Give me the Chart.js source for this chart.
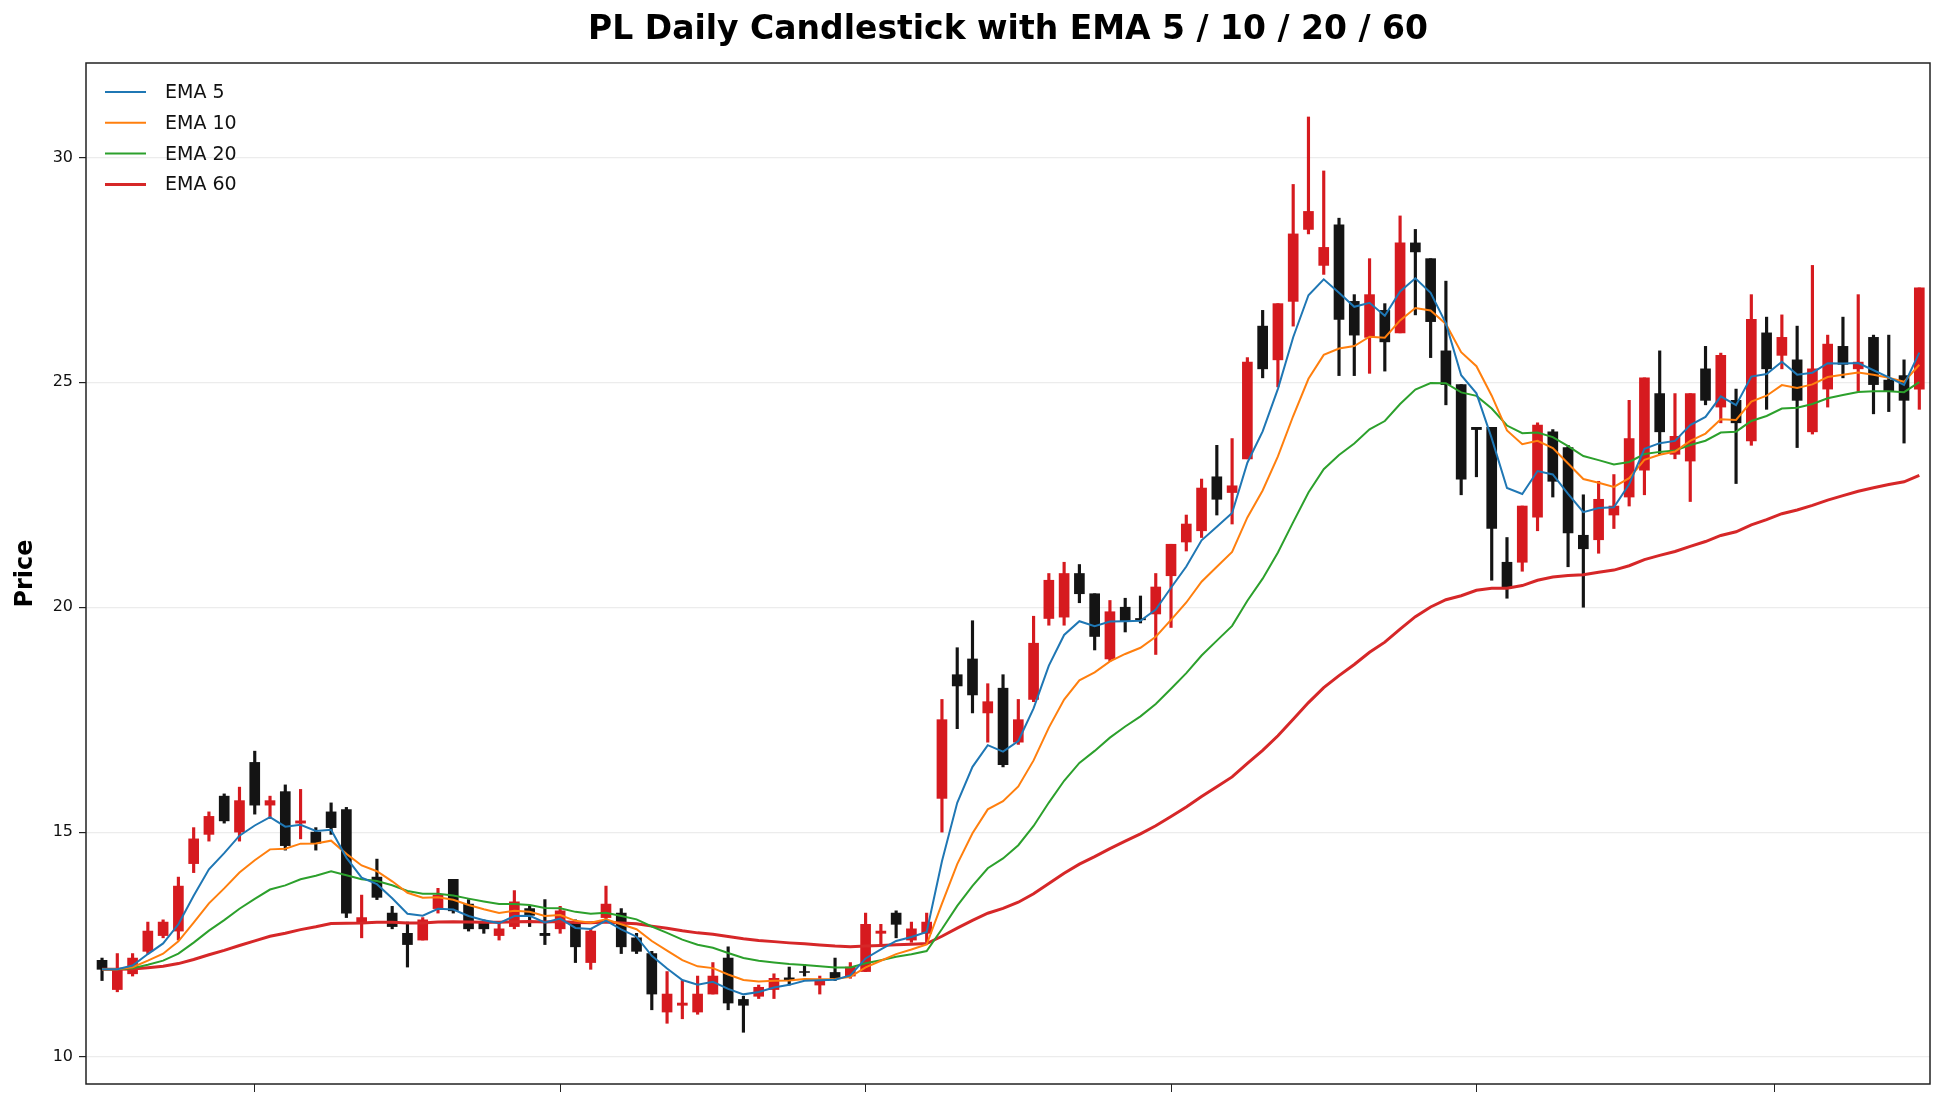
<!DOCTYPE html>
<html><head><meta charset="utf-8">
<script src="https://cdn.jsdelivr.net/npm/chart.js@4.4.1/dist/chart.umd.min.js"></script>
<style>html,body{margin:0;padding:0;background:#fff}canvas{display:block}</style>
</head><body>
<canvas id="c" width="1946" height="1106"></canvas>
<script>
const openP = [12.15,11.5,11.85,12.35,12.7,12.8,14.3,14.95,15.8,15.0,16.55,15.6,15.9,15.2,15.0,15.45,15.5,13.0,14.0,13.2,
12.75,12.6,13.3,13.95,13.4,13.0,12.7,12.9,13.3,12.75,12.85,13.0,12.1,13.1,13.2,12.65,12.3,11.0,11.15,11.0,
11.4,12.2,11.28,11.35,11.5,11.76,11.9,11.6,11.88,11.8,11.9,12.75,13.2,12.6,12.75,15.75,18.5,18.85,17.65,18.2,
17.0,17.95,19.75,19.78,20.75,20.3,18.85,20.0,19.75,19.85,20.7,21.45,21.7,22.9,22.55,23.3,26.25,25.5,26.8,28.4,
27.6,28.5,26.8,26.0,26.6,26.1,28.1,27.75,25.7,24.95,24.0,24.0,21.0,21.0,22.0,23.9,23.55,21.6,21.5,22.05,
22.45,23.05,24.75,23.4,23.25,25.3,24.45,24.6,23.7,26.1,25.6,25.5,23.9,24.85,25.8,25.3,26.0,25.05,25.15,24.85];
const closeP = [11.95,11.95,12.2,12.8,13.0,13.8,14.85,15.35,15.25,15.7,15.6,15.7,14.7,15.25,14.75,15.1,13.2,13.1,13.55,12.9,
12.5,13.05,13.6,13.25,12.85,12.85,12.85,13.45,13.15,12.7,13.25,12.45,12.8,13.4,12.45,12.35,11.4,11.4,11.2,11.4,
11.8,11.2,11.15,11.55,11.75,11.72,11.88,11.72,11.75,12.0,12.95,12.8,12.95,12.85,13.0,17.5,18.25,18.05,17.9,16.5,
17.5,19.2,20.6,20.75,20.3,19.35,19.9,19.7,19.72,20.45,21.4,21.85,22.65,22.4,22.7,25.45,25.3,26.75,28.3,28.8,
28.0,26.4,26.05,26.95,25.9,28.1,27.9,26.35,24.95,22.85,23.95,21.75,20.45,22.25,24.05,22.8,21.65,21.3,22.4,22.25,
23.75,25.1,23.9,23.8,24.75,24.6,25.6,24.1,26.4,25.3,26.0,24.6,25.3,25.85,25.4,25.45,24.95,24.8,24.6,27.1];
const highP = [12.2,12.3,12.3,13.0,13.05,14.0,15.1,15.45,15.85,16.0,16.8,15.8,16.05,15.95,15.1,15.65,15.55,13.6,14.4,13.35,
13.0,13.1,13.75,13.95,13.5,13.05,13.0,13.7,13.35,13.5,13.35,13.05,12.85,13.8,13.3,12.75,12.35,11.9,11.7,11.8,
12.1,12.45,11.35,11.6,11.85,12.0,12.05,11.8,12.2,12.1,13.2,12.95,13.25,13.0,13.2,17.95,19.1,19.7,18.3,18.5,
17.95,19.8,20.75,21.0,20.95,20.3,20.15,20.2,20.25,20.75,21.4,22.05,22.85,23.6,23.75,25.55,26.6,26.75,29.4,30.9,
29.7,28.65,26.95,27.75,26.75,28.7,28.4,27.75,27.25,24.95,24.0,24.0,21.55,22.25,24.1,23.95,23.6,22.5,22.8,22.95,
24.6,25.1,25.7,24.75,24.75,25.8,25.65,24.85,26.95,26.45,26.5,26.25,27.6,26.05,26.45,26.95,26.05,26.05,25.5,27.1];
const lowP = [11.7,11.45,11.8,12.3,12.65,12.6,14.1,14.8,15.2,14.8,15.4,15.3,14.6,14.85,14.6,14.95,13.1,12.65,13.5,12.85,
12.0,12.6,13.2,13.2,12.8,12.75,12.6,12.85,12.9,12.5,12.75,12.1,11.95,13.0,12.3,12.3,11.05,10.75,10.85,10.95,
11.4,11.05,10.55,11.3,11.3,11.6,11.8,11.4,11.7,11.75,11.9,12.5,12.65,12.55,12.55,15.0,17.3,17.65,17.0,16.45,
16.95,17.9,19.6,19.6,20.1,19.05,18.8,19.45,19.65,18.95,19.55,21.25,21.55,22.05,21.85,23.3,25.1,24.9,26.25,28.3,
27.4,25.15,25.15,25.2,25.25,26.1,26.5,25.55,24.5,22.5,22.9,20.6,20.2,20.8,21.7,22.45,20.9,20.0,21.2,21.75,
22.25,22.5,23.4,23.3,22.35,24.5,24.1,22.75,23.6,24.4,25.3,23.55,23.85,24.45,25.1,24.8,24.3,24.35,23.65,24.4];
const emaSpans = [5,10,20,60];
const emaNames = ['EMA 5','EMA 10','EMA 20','EMA 60'];
const emaColors = ['#1f77b4','#ff7f0e','#2ca02c','#d62728'];
const xTicks = [0,20,40,60,80,100,119];
const yTicks = [10,15,20,25,30];
const titleText = 'PL Daily Candlestick with EMA 5 / 10 / 20 / 60';
const yLabel = 'Price';

const UP='#d61a1f', DOWN='#141414';
const n = closeP.length;
const colors = closeP.map((c,i)=> c>=openP[i]?UP:DOWN);
function ema(arr, span){const a=2/(span+1);const out=[];let p=arr[0];arr.forEach((v,i)=>{p=i===0?v:a*v+(1-a)*p;out.push(p);});return out;}
const lineSets = emaSpans.map((s,k)=>({type:'line',label:emaNames[k],data:ema(closeP,s).map((v,i)=>({x:i,y:v})),
  borderColor:emaColors[k],borderWidth:k===3?3:2,pointRadius:0,tension:0,order:0}));
const wick = {type:'bar',label:'wick',data:lowP.map((l,i)=>({x:i,y:[l,highP[i]]})),backgroundColor:colors,borderWidth:0,barThickness:2.5,grouped:false,order:2};
const body = {type:'bar',label:'body',data:openP.map((o,i)=>({x:i,y:[Math.min(o,closeP[i]),Math.max(o,closeP[i])===Math.min(o,closeP[i])?Math.max(o,closeP[i])+0.04:Math.max(o,closeP[i])]})),backgroundColor:colors,borderWidth:0,barThickness:10,grouped:false,order:1};

const deco = {id:'deco',
  afterDraw(ch){const c=ch.ctx,a=ch.chartArea;c.save();
    c.strokeStyle='#222';c.lineWidth=1.5;c.strokeRect(a.left,a.top,a.right-a.left,a.bottom-a.top);
    c.fillStyle='#000';c.font='bold 33px "DejaVu Sans"';c.textAlign='center';c.textBaseline='middle';
    c.fillText(titleText,(a.left+a.right)/2,30);
    c.save();c.translate(26,(a.top+a.bottom)/2);c.rotate(-Math.PI/2);c.font='bold 24px "DejaVu Sans"';c.fillText(yLabel,0,0);c.restore();
    c.font='19px "DejaVu Sans"';c.textAlign='left';
    emaNames.forEach((nm,k)=>{const y=92+k*30.8;c.strokeStyle=emaColors[k];c.lineWidth=k===3?3:2;
      c.beginPath();c.moveTo(105,y);c.lineTo(146,y);c.stroke();c.fillStyle='#111';c.fillText(nm,165,y+1);});
    c.restore();}};

new Chart(document.getElementById('c'),{
  data:{datasets:[wick,body,...lineSets]},
  options:{responsive:false,devicePixelRatio:1,animation:false,
    layout:{padding:{left:0,right:16,top:63,bottom:0}},
    plugins:{legend:{display:false},tooltip:{enabled:false},title:{display:false}},
    scales:{
      x:{type:'linear',min:-1.05,max:119.7,offset:false,
        afterBuildTicks(s){s.ticks=xTicks.map(v=>({value:v}));},
        afterFit(s){s.height=22;},
        ticks:{callback:()=>'',autoSkip:false},
        grid:{drawOnChartArea:false,drawTicks:true,tickLength:8,tickColor:'#222'},border:{display:false}},
      y:{min:9.4,max:32.1,
        afterBuildTicks(s){s.ticks=yTicks.map(v=>({value:v}));},
        afterFit(s){s.width=86;},
        ticks:{color:'#111',font:{family:'DejaVu Sans',size:16},padding:6},
        grid:{color:'#ececec',lineWidth:1.2,tickLength:7,tickColor:'#222'},border:{display:false}}
    }},
  plugins:[deco]});
</script>
</body></html>
